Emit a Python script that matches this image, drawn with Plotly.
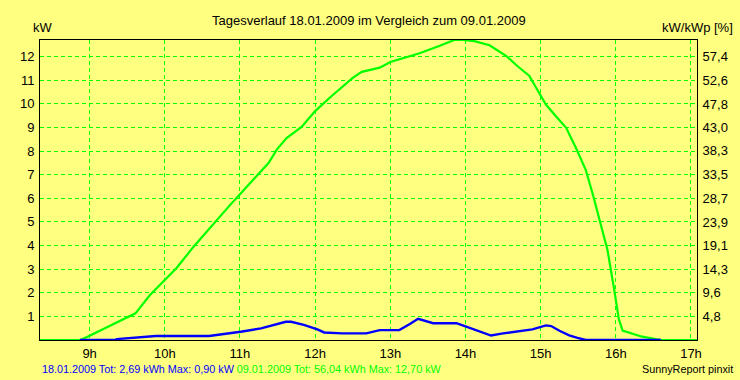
import plotly.graph_objects as go

# --- data ---
hours_green = [8.34, 8.88, 9.0, 9.19, 9.41, 9.61, 9.8, 10.0, 10.16, 10.38, 10.65, 10.87, 11.0, 11.22,
               11.38, 11.49, 11.62, 11.82, 12.0, 12.22, 12.37, 12.5, 12.62, 12.86, 13.0, 13.39, 13.65,
               13.85, 13.97, 14.12, 14.32, 14.54, 14.69, 14.85, 14.94, 15.07, 15.2, 15.34, 15.47, 15.6,
               15.69, 15.8, 15.89, 15.98, 16.04, 16.09, 16.35, 16.53, 16.62, 17.08]
kw_green = [0, 0, 0.18, 0.47, 0.79, 1.13, 1.89, 2.55, 3.06, 3.94, 4.94, 5.72, 6.17, 6.92,
            7.49, 8.06, 8.55, 9.02, 9.69, 10.33, 10.75, 11.1, 11.35, 11.53, 11.77, 12.14, 12.45,
            12.7, 12.7, 12.65, 12.48, 12.03, 11.6, 11.18, 10.68, 9.97, 9.48, 8.98, 8.13, 7.2,
            6.21, 4.94, 3.8, 2.1, 0.89, 0.4, 0.14, 0.04, 0, 0]

hours_blue = [8.87, 9.34, 9.36, 9.61, 9.88, 10.59, 10.74, 11.01, 11.28, 11.45, 11.61, 11.68, 11.85,
              12.03, 12.12, 12.36, 12.68, 12.86, 13.12, 13.26, 13.37, 13.57, 13.88, 14.01, 14.19,
              14.34, 14.5, 14.67, 14.89, 15.07, 15.14, 15.25, 15.38, 15.49, 15.6, 16.6]
kw_blue = [0, 0, 0.04, 0.09, 0.17, 0.17, 0.23, 0.35, 0.49, 0.64, 0.77, 0.77, 0.64,
           0.45, 0.32, 0.28, 0.28, 0.42, 0.42, 0.68, 0.90, 0.71, 0.71, 0.57, 0.35,
           0.19, 0.28, 0.35, 0.45, 0.62, 0.59, 0.39, 0.2, 0.09, 0, 0]

x_ticks = [9, 10, 11, 12, 13, 14, 15, 16, 17]
x_labels = ["9h", "10h", "11h", "12h", "13h", "14h", "15h", "16h", "17h"]
y_ticks = [1, 2, 3, 4, 5, 6, 7, 8, 9, 10, 11, 12]
pct_ticks = [4.8, 9.6, 14.3, 19.1, 23.9, 28.7, 33.5, 38.3, 43.0, 47.8, 52.6, 57.4]
pct_labels = ["4,8", "9,6", "14,3", "19,1", "23,9", "28,7", "33,5", "38,3", "43,0", "47,8", "52,6", "57,4"]

title = "Tagesverlauf 18.01.2009 im Vergleich zum 09.01.2009"
legend_blue = "18.01.2009 Tot: 2,69 kWh Max: 0,90 kW"
legend_green = "09.01.2009 Tot: 56,04 kWh Max: 12,70 kW"
credit = "SunnyReport pinxit"

BG = "#FFFF80"
GREEN = "#00FF00"
BLUE = "#0000FF"
FONT = "Liberation Sans, Arial, sans-serif"

y_max = 12.7
pct_factor = 57.4 / 12

W, H = 740, 380
pl, pr, pt, pb = 40, 41, 40, 40
pw, ph = W - pl - pr, H - pt - pb


def px2paper(px, py):
    return (px - pl) / pw, (H - pb - py) / ph


fig = go.Figure()
fig.add_trace(go.Scatter(x=hours_green, y=kw_green, mode="lines",
                         line=dict(color=GREEN, width=2.2), showlegend=False, hoverinfo="skip"))
fig.add_trace(go.Scatter(x=hours_blue, y=kw_blue, mode="lines",
                         line=dict(color=BLUE, width=2.4), showlegend=False, hoverinfo="skip"))
# dummy trace to activate the right axis
fig.add_trace(go.Scatter(x=[8.34], y=[0], yaxis="y2", mode="markers",
                         marker=dict(opacity=0), showlegend=False, hoverinfo="skip"))

ann_specs = [
    (title, 370, 20, "center", 13),
    ("kW", 31, 28, "left", 13),
    ("kW/kWp [%]", 737, 28, "right", 13),
    (f"<span style='color:{BLUE}'>{legend_blue}</span> <span style='color:{GREEN}'>{legend_green}</span>",
     40, 369, "left", 10.8),
    (credit, 737, 369, "right", 10.8),
]
annotations = []
for text, px, py, anchor, size in ann_specs:
    ax, ay = px2paper(px, py)
    annotations.append(dict(text=text, x=ax, y=ay, xref="paper", yref="paper", showarrow=False,
                            xanchor=anchor, yanchor="middle", font=dict(size=size)))

fig.update_layout(
    width=W, height=H,
    margin=dict(l=pl, r=pr, t=pt, b=pb),
    paper_bgcolor=BG, plot_bgcolor=BG,
    font=dict(family=FONT, size=13, color="black"),
    xaxis=dict(range=[8.34, 17.08], tickvals=x_ticks, ticktext=x_labels,
               showgrid=True, gridcolor=GREEN, griddash="4px,3px", gridwidth=1,
               showline=True, linecolor="black", linewidth=1, mirror=True,
               ticks="", ticklabelstandoff=1, zeroline=False),
    yaxis=dict(range=[0, y_max], tickvals=y_ticks,
               showgrid=True, gridcolor=GREEN, griddash="4px,3px", gridwidth=1,
               showline=True, linecolor="black", linewidth=1, mirror=True,
               ticks="", ticklabelstandoff=2, zeroline=False),
    yaxis2=dict(range=[0, y_max * pct_factor], tickvals=pct_ticks, ticktext=pct_labels,
                overlaying="y", side="right", showgrid=False, zeroline=False,
                showline=True, linecolor="black", linewidth=1,
                ticks="", ticklabelstandoff=2),
    annotations=annotations,
)

fig.write_html("out.html", config={"displayModeBar": False},
               post_script="document.body.style.margin='0';")
